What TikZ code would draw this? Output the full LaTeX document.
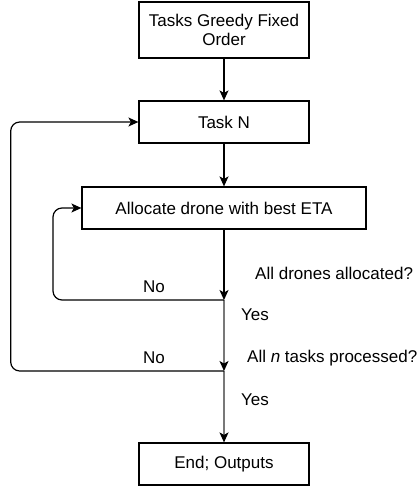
\documentclass[tikz,border=0pt]{standalone}
\usepackage{fontspec}
\setmainfont{Liberation Sans}
\usetikzlibrary{arrows.meta}
\begin{document}
\begin{tikzpicture}[x=1bp,y=-1bp,
  box/.style={draw=black, line width=1.2bp, minimum height=42bp, align=center, inner sep=0pt,
    font=\fontsize{17bp}{19.5bp}\selectfont},
  lbl/.style={font=\fontsize{17bp}{19bp}\selectfont, inner sep=0pt},
  conn/.style={line width=1.2bp, -{Stealth[length=10bp,width=9bp,inset=2.5bp,color=black]}},
  grey/.style={draw={rgb,255:red,120;green,120;blue,120}}]
\useasboundingbox (0,0) rectangle (418,488);
\node[box, minimum width=170bp, minimum height=56bp] (b1) at (224,30) {Tasks Greedy Fixed\\Order};
\node[box, minimum width=170bp] (b2) at (224,122) {Task N};
\node[box, minimum width=284bp] (b3) at (224,208) {Allocate drone with best ETA};
\node[box, minimum width=170bp] (b4) at (224,464) {End; Outputs};
\coordinate (j1) at (224,300);
\coordinate (j2) at (224,371);
\draw[conn] (b1) -- (b2);
\draw[conn] (b2) -- (b3);
\draw[conn] (b3) -- (j1);
\draw[conn, grey] (j1) -- (j2);
\draw[conn, grey] (j2) -- (b4);
\draw[conn, rounded corners=9bp] (j1) -| (53,208) -- (b3.west);
\draw[conn, rounded corners=9bp] (j2) -| (10.7,122) -- (b2.west);
\node[lbl, anchor=west] (q1) at (255,273) {All drones allocated?};
\node[lbl] (n1) at (154,287) {No};
\node[lbl, anchor=west] (y1) at (241,315) {Yes};
\node[lbl] (n2) at (154,358) {No};
\node[lbl, anchor=west] (q2) at (247,358) {All \textit{n} tasks processed?};
\node[lbl, anchor=west] (y2) at (241,400) {Yes};
\end{tikzpicture}
\end{document}
